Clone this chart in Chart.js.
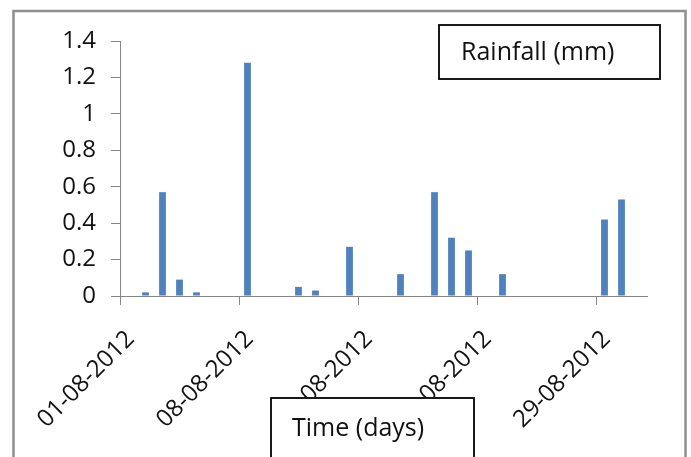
<!DOCTYPE html>
<html>
<head>
<meta charset="utf-8">
<script src="https://cdn.jsdelivr.net/npm/chart.js@4/dist/chart.umd.min.js"></script>
<style>
  html, body { margin: 0; padding: 0; background: #fff; overflow: hidden; }
  #wrap { position: relative; width: 691px; height: 457px; }
</style>
</head>
<body>
<div id="wrap"><canvas id="c" width="691" height="457"></canvas></div>
<script>
// Daily rainfall, August 2012
const days = [
  '01-08-2012','02-08-2012','03-08-2012','04-08-2012','05-08-2012','06-08-2012','07-08-2012',
  '08-08-2012','09-08-2012','10-08-2012','11-08-2012','12-08-2012','13-08-2012','14-08-2012',
  '15-08-2012','16-08-2012','17-08-2012','18-08-2012','19-08-2012','20-08-2012','21-08-2012',
  '22-08-2012','23-08-2012','24-08-2012','25-08-2012','26-08-2012','27-08-2012','28-08-2012',
  '29-08-2012','30-08-2012','31-08-2012'
];
const rainfall = [
  0, 0.02, 0.57, 0.09, 0.02, 0, 0,
  1.28, 0, 0, 0.05, 0.03, 0, 0.27,
  0, 0, 0.12, 0, 0.57, 0.32, 0.25,
  0, 0.12, 0, 0, 0, 0, 0,
  0.42, 0.53, 0
];
const yTicks = [0, 0.2, 0.4, 0.6, 0.8, 1, 1.2, 1.4];
const labelEvery = 7;          // one date label per week
const seriesName = 'Rainfall (mm)';
const axisName = 'Time (days)';

const FONT = '"Open Sans", "DejaVu Sans", sans-serif';
const AXIS_GREY = '#868686';

// Frame around the figure and the two captioned boxes
const boxes = {
  id: 'boxes',
  afterDraw(chart) {
    const ctx = chart.ctx;
    ctx.save();
    // outer frame
    ctx.strokeStyle = '#8f8f8f';
    ctx.lineWidth = 2.5;
    ctx.strokeRect(13.5, 11, 672, 470);

    // series caption
    ctx.fillStyle = '#fff';
    ctx.fillRect(438, 24, 222, 55);
    ctx.strokeStyle = '#000';
    ctx.lineWidth = 1.8;
    ctx.strokeRect(439, 25, 221, 54);
    ctx.fillStyle = '#111';
    ctx.font = '25px ' + FONT;
    ctx.textBaseline = 'alphabetic';
    ctx.textAlign = 'left';
    ctx.fillText(seriesName, 461, 60);

    // axis caption (sits over the date labels)
    ctx.fillStyle = '#fff';
    ctx.fillRect(270, 397, 204, 80);
    ctx.strokeStyle = '#000';
    ctx.strokeRect(271, 398, 203, 80);
    ctx.fillStyle = '#111';
    ctx.fillText(axisName, 292, 436);
    ctx.restore();
  }
};

new Chart(document.getElementById('c'), {
  type: 'bar',
  data: {
    labels: days,
    datasets: [{
      label: seriesName,
      data: rainfall,
      backgroundColor: '#4F81BD',
      borderWidth: 0,
      categoryPercentage: 1,
      barPercentage: 0.4
    }]
  },
  options: {
    responsive: false,
    animation: false,
    events: [],
    layout: { padding: { left: 0, top: 41, right: 44, bottom: 0 } },
    plugins: {
      legend: { display: false },
      tooltip: { enabled: false }
    },
    scales: {
      x: {
        type: 'category',
        offset: true,
        afterFit(scale) { scale.height = 161; },
        border: { display: true, color: AXIS_GREY, width: 1 },
        grid: {
          offset: true,
          drawOnChartArea: false,
          drawTicks: true,
          tickLength: 9,
          color: (c) => (c.index % labelEvery === 0 && c.index < days.length) ? AXIS_GREY : 'rgba(0,0,0,0)'
        },
        ticks: {
          autoSkip: false,
          minRotation: 45,
          maxRotation: 45,
          padding: 20,
          labelOffset: 2,
          color: '#111',
          font: { family: FONT, size: 24 },
          callback: (v, i) => (i % labelEvery === 0 ? days[i] : '')
        }
      },
      y: {
        min: yTicks[0],
        max: yTicks[yTicks.length - 1],
        afterFit(scale) { scale.width = 120; },
        afterBuildTicks(scale) { scale.ticks = yTicks.map(v => ({ value: v })); },
        border: { display: true, color: AXIS_GREY, width: 1 },
        grid: {
          drawOnChartArea: false,
          drawTicks: true,
          tickLength: 9,
          color: AXIS_GREY
        },
        ticks: {
          padding: 15,
          color: '#111',
          font: { family: FONT, size: 24 },
          callback: (v) => String(+(+v).toFixed(1))
        }
      }
    }
  },
  plugins: [boxes]
});
</script>
</body>
</html>
